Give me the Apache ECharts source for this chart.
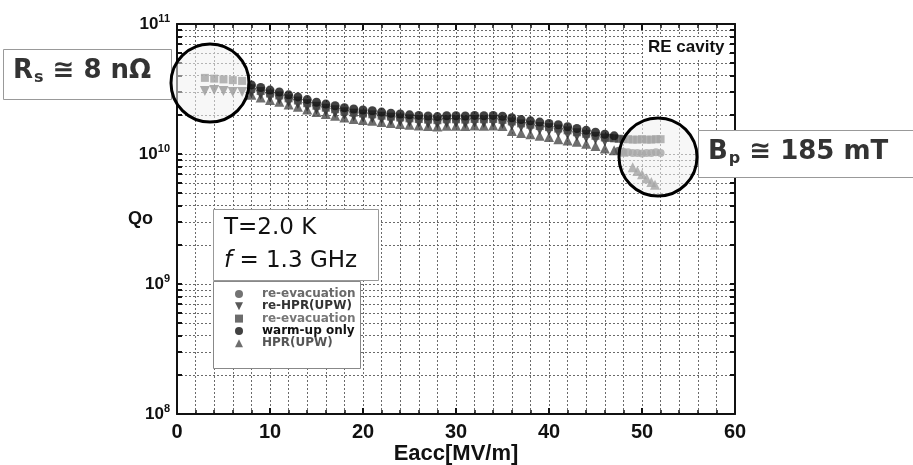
<!DOCTYPE html>
<html><head><meta charset="utf-8">
<script src="https://cdn.jsdelivr.net/npm/echarts@6/dist/echarts.min.js"></script>
<style>html,body{margin:0;padding:0;background:#fff}#c{width:913px;height:465px}</style>
</head><body><div id="c"></div>
<script>
// ---- data (Eacc in MV/m, Qo) ----
const xTickLabels = ['0','10','20','30','40','50','60'];
const yMajorTicks = [1e8, 1e9, 1e10, 1e11];

const warmE = [8,9,10,11,12,13,14,15,16,17,18,19,20,21,22,23,24,25,26,27,28,29,30,31,32,33,34,35,36,37,38,39,40,41,42,43,44,45,46,47];
const warmQ = [3.40,3.25,3.10,3.00,2.85,2.75,2.62,2.50,2.42,2.35,2.27,2.22,2.18,2.15,2.10,2.06,2.03,2.00,1.98,1.96,1.94,1.97,1.97,1.96,1.98,1.97,1.98,1.95,1.90,1.84,1.80,1.76,1.72,1.68,1.62,1.57,1.52,1.47,1.42,1.38];

const hprDownE = [3,4,5,6,7,8,9,10,11,12,13,14,15,16,17,18,19,20,21,22,23,24,25,26,27,28,29,30,31,32,33,34,35,36,37,38,39,40,41,42,43,44,45,46];
const hprDownQ = [3.05,3.10,3.05,3.00,3.00,2.95,2.85,2.72,2.62,2.50,2.42,2.30,2.20,2.13,2.07,2.00,1.95,1.92,1.89,1.85,1.81,1.78,1.76,1.74,1.72,1.71,1.73,1.73,1.72,1.74,1.73,1.74,1.71,1.66,1.61,1.57,1.53,1.50,1.46,1.41,1.37,1.33,1.29,1.25];

const reEvacSqE = [3,4,5,6,7,8,9,10,11,12,13,14,15,16,17,18,19,20,21,22,23,24,25,26,27,28,29,30,31,32,33,34,35,36,37,38,39,40,41,42,43,44,45,46,46.5,47,47.5,48,48.5,49,49.5,50,50.5,51,51.5,52];
const reEvacSqQ = [3.85,3.80,3.75,3.70,3.65,3.20,3.05,2.92,2.82,2.68,2.58,2.46,2.35,2.27,2.21,2.13,2.08,2.05,2.02,1.97,1.94,1.91,1.88,1.86,1.84,1.82,1.85,1.85,1.84,1.86,1.85,1.86,1.83,1.78,1.72,1.68,1.64,1.61,1.57,1.52,1.47,1.43,1.38,1.34,1.33,1.32,1.31,1.30,1.30,1.29,1.29,1.30,1.29,1.29,1.30,1.30];

const reEvacCirE = [47.5,48,48.5,49,49.5,50,50.5,51,51.5,52];
const reEvacCirQ = [1.06,1.04,1.03,1.02,1.02,1.01,1.02,1.02,1.03,1.02];

const hprUpE = [8,9,10,11,12,13,14,15,16,17,18,19,20,21,22,23,24,25,26,27,28,29,30,31,32,33,34,35,36,37,38,39,40,41,42,43,44,45,46,47,48,49,49.5,50,50.5,51,51.4];
const hprUpQ = [2.85,2.72,2.60,2.52,2.40,2.31,2.20,2.10,2.03,1.97,1.91,1.86,1.83,1.80,1.76,1.73,1.70,1.68,1.66,1.64,1.63,1.65,1.65,1.64,1.66,1.65,1.66,1.64,1.50,1.45,1.42,1.38,1.35,1.30,1.27,1.24,1.20,1.15,1.10,1.07,1.04,0.79,0.74,0.70,0.65,0.61,0.58];

const seriesNames = ['re-evacuation', 're-HPR(UPW)', 're-evacuation ', 'warm-up only', 'HPR(UPW)'];
const legendColors = ['#6a6a6a', '#333', '#777', '#111', '#555'];

// ---- helpers ----
const zip = (xs, qs) => xs.map((x, i) => [x, qs[i] * 1e10]);
const yTickValues = [];
for (let n = 8; n <= 10; n++) for (let m = 1; m <= 9; m++) yTickValues.push(m * Math.pow(10, n));
yTickValues.push(1e11);

const FONT = "'Liberation Sans',Arial,sans-serif";
const DJ = "'DejaVu Sans',sans-serif";
const gridLine = { show: true, lineStyle: { color: '#6a6a6a', width: 1, type: [2, 2] } };
const frame = { show: true, onZero: false, lineStyle: { color: '#111', width: 2 } };
const legendRich = {};
legendColors.forEach((c, i) => {
  legendRich['c' + i] = { color: c, fontFamily: DJ, fontWeight: 'bold', fontSize: 12, lineHeight: 12, padding: [0, 0, 0, 14] };
});

const chart = echarts.init(document.getElementById('c'));
chart.setOption({
  animation: false,
  backgroundColor: '#fff',
  grid: { left: 177, right: 178, top: 24, bottom: 51, containLabel: false, outerBoundsMode: 'none' },
  xAxis: [
    { type: 'value', min: 0, max: 60, interval: 10, position: 'bottom',
      axisLine: frame,
      axisTick: { show: true, inside: true, length: 6, lineStyle: { color: '#111', width: 2 } },
      minorTick: { show: true, splitNumber: 5, length: 4, lineStyle: { color: '#111', width: 1.5 } },
      splitLine: gridLine, minorSplitLine: gridLine,
      axisLabel: { fontFamily: FONT, fontWeight: 'bold', fontSize: 20, color: '#111', margin: 8,
        formatter: v => xTickLabels[Math.round(v / 10)] },
      name: 'Eacc[MV/m]', nameLocation: 'middle', nameGap: 29, nameMoveOverlap: false,
      nameTextStyle: { fontFamily: FONT, fontWeight: 'bold', fontSize: 22, color: '#111' } },
    { type: 'value', min: 0, max: 60, interval: 10, position: 'top',
      axisLine: frame,
      axisTick: { show: true, inside: true, length: 6, lineStyle: { color: '#111', width: 2 } },
      minorTick: { show: true, splitNumber: 5, length: 4, lineStyle: { color: '#111', width: 1.5 } },
      splitLine: { show: false }, axisLabel: { show: false } }
  ],
  yAxis: [
    { type: 'log', logBase: 10, min: 1e8, max: 1e11, position: 'left',
      axisLine: frame,
      axisTick: { show: true, inside: true, length: 5, customValues: yTickValues, lineStyle: { color: '#111', width: 2 } },
      splitLine: gridLine,
      axisLabel: { customValues: yMajorTicks, margin: 7,
        formatter: v => '{b|10}{e|' + Math.round(Math.log10(v)) + '}',
        rich: { b: { fontFamily: FONT, fontWeight: 'bold', fontSize: 17, color: '#111' },
                e: { fontFamily: FONT, fontWeight: 'bold', fontSize: 11, color: '#111', padding: [0, 0, 10, 0] } } },
      name: 'Qo', nameLocation: 'middle', nameRotate: 0, nameGap: 24, nameMoveOverlap: false,
      nameTextStyle: { fontFamily: FONT, fontWeight: 'bold', fontSize: 18, color: '#111', padding: [4, 0, 0, 0] } },
    { type: 'log', logBase: 10, min: 1e8, max: 1e11, position: 'right',
      axisLine: frame,
      axisTick: { show: true, inside: true, length: 5, customValues: yTickValues, lineStyle: { color: '#111', width: 2 } },
      splitLine: { show: false }, axisLabel: { show: false } }
  ],
  legend: {
    orient: 'vertical', left: 235, top: 288, padding: 0, itemGap: 0.3,
    itemWidth: 8, itemHeight: 8, z: 200,
    formatter: name => '{c' + seriesNames.indexOf(name) + '|' + name + '}',
    textStyle: { rich: legendRich },
    data: seriesNames
  },
  series: [
    { name: seriesNames[4], type: 'scatter', symbol: 'triangle', symbolSize: 10,
      itemStyle: { color: '#4a4a4a' }, data: zip(hprUpE, hprUpQ), z: 2 },
    { name: seriesNames[1], type: 'scatter', symbol: 'path://M0,0 L10,0 L5,10 Z', symbolSize: 10,
      itemStyle: { color: '#2e2e2e' }, data: zip(hprDownE, hprDownQ), z: 3 },
    { name: seriesNames[2], type: 'scatter', symbol: 'rect', symbolSize: 8,
      itemStyle: { color: '#474747' }, data: zip(reEvacSqE, reEvacSqQ), z: 4 },
    { name: seriesNames[0], type: 'scatter', symbol: 'circle', symbolSize: 8,
      itemStyle: { color: '#505050' }, data: zip(reEvacCirE, reEvacCirQ), z: 5 },
    { name: seriesNames[3], type: 'scatter', symbol: 'circle', symbolSize: 9,
      itemStyle: { color: '#111' }, data: zip(warmE, warmQ), z: 6 }
  ],
  graphic: [
    { type: 'text', left: 645, top: 37, z: 100,
      style: { text: 'RE cavity', font: "bold 17px " + FONT, fill: '#111',
        backgroundColor: '#fff', padding: [2, 3, 2, 3] } },
    { type: 'circle', shape: { cx: 210, cy: 83, r: 39 }, z: 120,
      style: { fill: 'rgba(240,240,240,0.55)', stroke: '#000', lineWidth: 3 } },
    { type: 'circle', shape: { cx: 658, cy: 157, r: 39 }, z: 120,
      style: { fill: 'rgba(240,240,240,0.55)', stroke: '#000', lineWidth: 3 } },
    { type: 'rect', shape: { x: 3.5, y: 49.5, width: 168, height: 50 }, z: 110,
      style: { fill: '#fff', stroke: '#999', lineWidth: 1 } },
    { type: 'text', left: 13, top: 58, z: 111,
      style: { text: '{a|R}{s|s}{a| ≅ 8 nΩ}', fill: '#333',
        rich: { a: { font: "bold 26px " + DJ, fill: '#333' },
                s: { font: "bold 16px " + DJ, fill: '#333', padding: [14, 0, 0, 1] } } } },
    { type: 'rect', shape: { x: 698.5, y: 130.5, width: 220, height: 47 }, z: 110,
      style: { fill: '#fff', stroke: '#999', lineWidth: 1 } },
    { type: 'text', left: 708, top: 139, z: 111,
      style: { text: '{a|B}{s|p}{a| ≅ 185 mT}', fill: '#333',
        rich: { a: { font: "bold 26px " + DJ, fill: '#333' },
                s: { font: "bold 16px " + DJ, fill: '#333', padding: [14, 0, 0, 1] } } } },
    { type: 'rect', shape: { x: 213.5, y: 209.5, width: 165, height: 71 }, z: 110,
      style: { fill: '#fff', stroke: '#999', lineWidth: 1 } },
    { type: 'text', left: 224, top: 217, z: 111,
      style: { text: 'T=2.0 K', font: "23px " + DJ, fill: '#111' } },
    { type: 'text', left: 224, top: 250, z: 111,
      style: { text: '{i|f}{n| = 1.3 GHz}', fill: '#111',
        rich: { i: { font: "italic 23px " + DJ, fill: '#111' },
                n: { font: "23px " + DJ, fill: '#111' } } } },
    { type: 'rect', shape: { x: 213.5, y: 281.5, width: 147, height: 87 }, z: 110,
      style: { fill: '#fff', stroke: '#888', lineWidth: 1 } }
  ]
});
</script></body></html>
